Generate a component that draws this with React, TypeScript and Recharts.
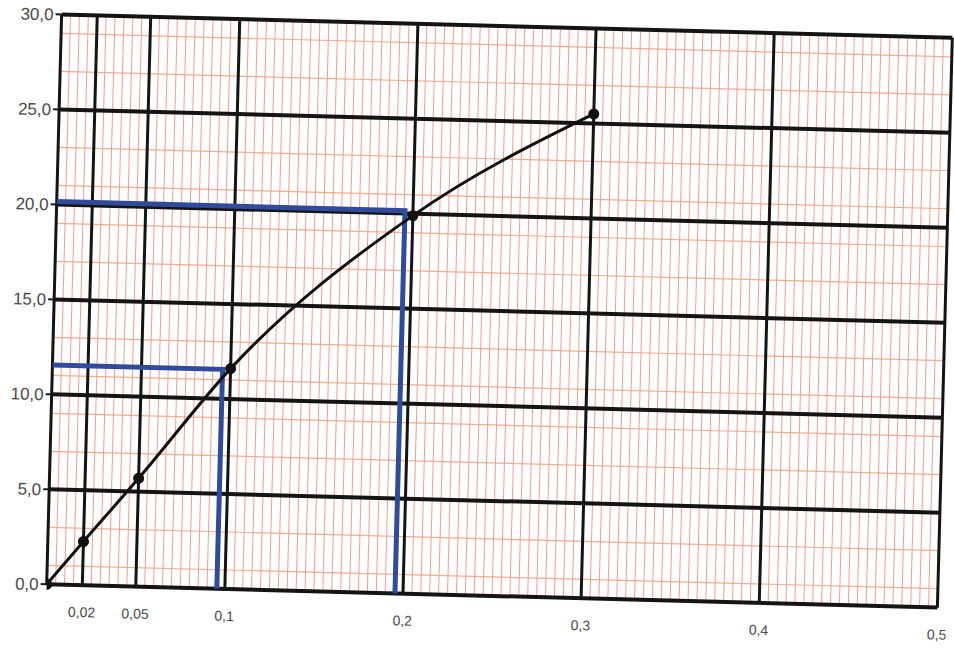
import React from 'react';
import { LineChart, Line, XAxis, YAxis, CartesianGrid, ReferenceLine } from 'recharts';

// measured points on the curve
const xValues = [0, 0.02, 0.05, 0.1, 0.2, 0.3];
const yValues = [0, 2.3, 5.7, 11.6, 19.9, 25.5];

// blue read-off guides
const guideLowX = [0, 0.0955, 0.0955];
const guideLowY = [11.55, 11.55, 0];
const guideHighX = [0, 0.1955, 0.1955];
const guideHighY = [20.15, 20.15, 0];

const xTicks = [0.02, 0.05, 0.1, 0.2, 0.3, 0.4, 0.5];
const yTicks = [0, 5, 10, 15, 20, 25, 30];

const majorX = [0, 0.02, 0.05, 0.1, 0.2, 0.3, 0.4, 0.5];
// graph paper: fine lines every 0.005 on x and every 1 on y
const minorX: number[] = [];
for (let i = 1; i < 100; i++) minorX.push(i / 200);
const minorY: number[] = [];
for (let i = 1; i < 30; i++) minorY.push(i);

const curve = xValues.map((x, i) => ({ x, y: yValues[i] }));
const guideLow = guideLowX.map((x, i) => ({ x, y: guideLowY[i] }));
const guideHigh = guideHighX.map((x, i) => ({ x, y: guideHighY[i] }));

const fmtY = (v: number) => v.toFixed(1).replace('.', ',');
const fmtX = (v: number) => String(v).replace('.', ',');

export default function App() {
  return (
    <div
      style={{
        position: 'absolute',
        left: 0,
        top: 0,
        width: 954,
        height: 652,
        background: '#fff',
        transform: 'rotate(1.5deg)',
        transformOrigin: '498px 311px',
      }}
    >
      <LineChart
        width={954}
        height={652}
        data={curve}
        margin={{ top: 26, right: 9, bottom: 0, left: 0 }}
        style={{ fontFamily: '"Liberation Sans", Arial, sans-serif' }}
      >
        <CartesianGrid vertical={false} horizontalValues={minorY} stroke="#f5ad8c" strokeWidth={1.2} />
        <XAxis
          dataKey="x"
          type="number"
          domain={[0, 0.5]}
          ticks={xTicks}
          tickFormatter={fmtX}
          axisLine={false}
          tickLine={false}
          tickSize={0}
          tickMargin={22}
          height={56}
          tick={{ fill: '#4a4a4a', fontSize: 14 }}
          allowDataOverflow
        />
        <YAxis
          type="number"
          domain={[0, 30]}
          ticks={yTicks}
          tickFormatter={fmtY}
          axisLine={false}
          tickLine={{ stroke: '#1a1a1a', strokeWidth: 2 }}
          tickSize={6}
          tickMargin={2}
          width={54}
          tick={{ fill: '#4a4a4a', fontSize: 17 }}
        />
        {minorX.map((v) => (
          <ReferenceLine key={'mx' + v} x={v} stroke="#f59c96" strokeWidth={1} />
        ))}
        {majorX.map((v) => (
          <ReferenceLine key={'MX' + v} x={v} stroke="#141414" strokeWidth={3} />
        ))}
        {yTicks.map((v) => (
          <ReferenceLine key={'MY' + v} y={v} stroke="#141414" strokeWidth={4} />
        ))}
        <Line data={guideLow} dataKey="y" type="linear" stroke="#2f4b9e" strokeWidth={5} dot={false} isAnimationActive={false} />
        <Line data={guideHigh} dataKey="y" type="linear" stroke="#2f4b9e" strokeWidth={5} dot={false} isAnimationActive={false} />
        <Line
          dataKey="y"
          type="monotone"
          stroke="#111"
          strokeWidth={3}
          dot={{ r: 5, fill: '#111', stroke: '#111', strokeWidth: 1 }}
          isAnimationActive={false}
        />
      </LineChart>
    </div>
  );
}
